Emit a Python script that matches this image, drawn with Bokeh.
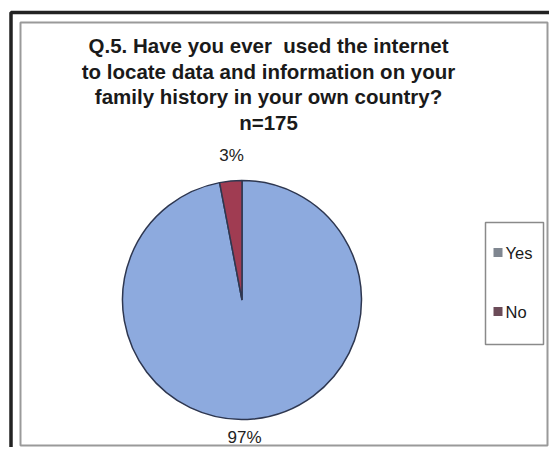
from math import pi
from bokeh.plotting import figure
from bokeh.models import Range1d
from bokeh.core.properties import value
from bokeh.embed import file_html
from bokeh.resources import INLINE

# ---- data ----
categories = ["Yes", "No"]
percents = [97, 3]
title_lines = [
    "Q.5. Have you ever\u00a0 used the internet",
    "to locate data and information on your",
    "family history in your own country?",
    "n=175",
]

slice_colors = ["#8DAADE", "#A03C52"]
legend_colors = ["#7F8690", "#6B4B58"]

W, H = 549, 447
FONT = "Liberation Sans"

def X(ix):
    return ix

def Y(iy):
    return H - iy

p = figure(width=W, height=H, output_backend="svg", toolbar_location=None,
           x_range=Range1d(0, W), y_range=Range1d(0, H), min_border=0,
           background_fill_color="white", border_fill_color="white")
p.axis.visible = False
p.grid.visible = False
p.outline_line_color = None

# outer dark frame (left & top) and inner grey frame
p.quad(left=[X(10.5)], right=[X(700)], top=[Y(12)], bottom=[Y(700)],
       fill_color=None, line_color="#222222", line_width=3.5)
p.quad(left=[X(20)], right=[X(547)], top=[Y(22)], bottom=[Y(445)],
       fill_color=None, line_color="#9a9a9a", line_width=2)

# title
for i, t in enumerate(title_lines):
    p.text(x=[X(268)], y=[Y(45 + 25.5 * i)], text=[t], text_align="center",
           text_baseline="middle", text_font=value(FONT), text_font_size="20.5px",
           text_font_style="bold", text_color="#1a1a1a")

# pie
cx, cy, r = X(241.5), Y(299.5), 119.5
total = sum(percents)
cum = 0.0
starts, ends = [], []
for v in percents:
    a0 = pi / 2 - 2 * pi * (cum + v) / total
    a1 = pi / 2 - 2 * pi * cum / total
    starts.append(a0)
    ends.append(a1)
    cum += v
p.wedge(x=[cx] * len(percents), y=[cy] * len(percents), radius=r,
        start_angle=starts, end_angle=ends, fill_color=slice_colors,
        line_color="#2E3750", line_width=1.5)

# data labels
p.text(x=[X(231)], y=[Y(155)], text=[f"{percents[1]}%"], text_align="center",
       text_baseline="middle", text_font=value(FONT), text_font_size="17px",
       text_color="#222222")
p.text(x=[X(244)], y=[Y(437)], text=[f"{percents[0]}%"], text_align="center",
       text_baseline="middle", text_font=value(FONT), text_font_size="17px",
       text_color="#222222")

# legend
p.quad(left=[X(485)], right=[X(543)], top=[Y(222)], bottom=[Y(344)],
       fill_color="white", line_color="#8a8a8a", line_width=1.5)
leg_y = [252, 311]
for lab, ly, lc in zip(categories, leg_y, legend_colors):
    p.rect(x=[X(497.5)], y=[Y(ly)], width=9, height=9, fill_color=lc, line_color=None)
    p.text(x=[X(505)], y=[Y(ly)], text=[lab], text_align="left",
           text_baseline="middle", text_font=value(FONT), text_font_size="16.5px",
           text_color="#1a1a1a")

open("out.html", "w").write(file_html(p, INLINE))
